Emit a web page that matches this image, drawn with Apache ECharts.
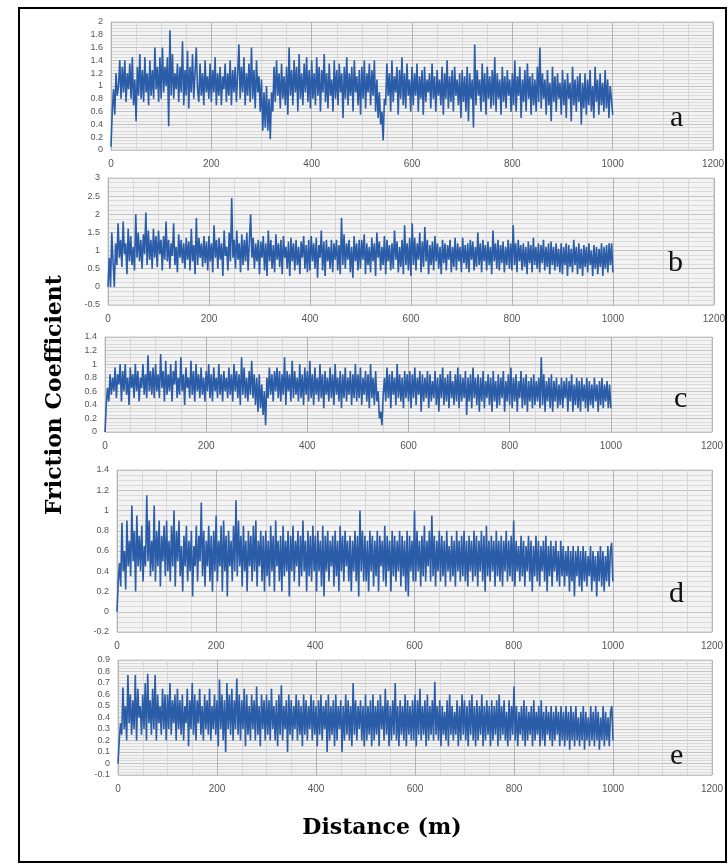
<!DOCTYPE html>
<html>
<head>
    <meta charset="utf-8">
    <title>Friction Coefficient</title>
    <script src="https://cdn.jsdelivr.net/npm/echarts@6/dist/echarts.min.js"></script>
    <style>
        * { margin: 0; padding: 0; }
        html, body { background: #fff; }
        #main { width: 728px; height: 865px; }
    </style>
</head>
<body>
<div id="main"></div>
<script>
    // sampling step along the track (m); value i sits at i * STEP
    var STEP = 2.5;
    var xTicks = [0, 200, 400, 600, 800, 1000, 1200];

    var seriesA = [
        0.05, 0.6, 0.95, 0.55, 1.2, 0.85, 1.0, 1.4, 0.8, 1.3, 0.9, 1.4, 0.75, 1.2, 0.95, 1.35, 0.8, 1.45, 0.7, 1.1,
        0.45, 1.3, 0.85, 1.5, 0.8, 1.25, 0.75, 1.45, 0.9, 1.2, 0.7, 1.4, 0.85, 1.25, 0.8, 1.6, 0.95, 1.3, 0.75, 1.45,
        0.8, 1.6, 0.9, 1.3, 1.0, 1.45, 0.37, 1.87, 0.85, 1.5, 0.8, 1.2, 0.95, 1.35, 0.75, 1.3, 0.9, 1.7, 0.7, 1.25,
        0.85, 1.55, 0.65, 1.3, 0.9, 1.5, 0.8, 1.2, 1.6, 0.95, 0.75, 1.35, 0.85, 1.2, 0.7, 1.4, 0.9, 1.15, 0.8, 1.35,
        0.75, 1.25, 0.9, 1.45, 0.7, 1.2, 0.85, 1.3, 0.7, 1.15, 0.95, 1.35, 0.75, 1.2, 0.85, 1.4, 0.7, 1.25, 0.9, 1.3,
        0.75, 1.2, 1.65, 0.8, 1.3, 0.9, 1.45, 0.7, 1.2, 0.85, 1.35, 0.75, 1.6, 0.8, 1.25, 0.65, 1.4, 0.9, 1.15, 0.6,
        1.1, 0.3, 0.9, 0.35, 1.0, 0.3, 0.8, 0.17, 0.9, 0.6, 1.3, 0.75, 1.4, 0.85, 1.2, 0.65, 1.35, 0.8, 1.15, 0.7,
        1.3, 0.55, 1.6, 0.85, 1.25, 0.7, 1.4, 0.9, 1.3, 0.6, 1.5, 0.8, 1.2, 0.7, 1.35, 0.9, 1.45, 0.75, 1.25, 0.65,
        1.4, 0.8, 1.2, 0.7, 1.45, 0.85, 1.3, 0.6, 1.25, 0.9, 1.5, 0.75, 1.2, 0.65, 1.35, 0.85, 1.1, 0.6, 1.4, 0.8,
        1.25, 0.7, 1.35, 0.9, 1.2, 0.5, 1.3, 0.8, 1.45, 0.7, 1.2, 0.85, 1.3, 0.6, 1.4, 0.9, 1.15, 0.7, 1.25, 0.55,
        1.3, 0.8, 1.4, 0.65, 1.2, 0.9, 1.35, 0.7, 1.25, 0.85, 1.4, 0.6, 1.1, 0.5, 0.9, 0.4, 0.6, 0.15, 0.8, 0.7,
        1.35, 0.85, 1.2, 0.6, 1.4, 0.75, 1.15, 0.9, 1.3, 0.55, 1.25, 0.8, 1.45, 0.7, 1.2, 0.65, 1.35, 0.85, 1.1, 0.6,
        1.3, 0.7, 1.2, 0.85, 1.35, 0.6, 1.15, 0.8, 1.25, 0.55, 1.3, 0.75, 1.1, 0.9, 1.2, 0.65, 1.35, 0.8, 1.15, 0.6,
        1.25, 0.85, 1.1, 0.7, 1.3, 0.55, 1.2, 0.8, 1.4, 0.65, 1.15, 0.75, 1.25, 0.6, 1.3, 0.85, 1.1, 0.7, 1.2, 0.5,
        1.25, 0.75, 1.15, 0.6, 1.3, 0.45, 1.2, 0.8, 1.1, 0.35, 1.65, 0.7, 1.25, 0.85, 1.1, 0.6, 1.35, 0.75, 1.2, 0.55,
        1.3, 0.8, 1.15, 0.65, 1.25, 0.7, 1.45, 0.6, 1.2, 0.8, 1.1, 0.55, 1.3, 0.75, 1.15, 0.65, 1.25, 0.85, 1.1, 0.6,
        1.2, 0.7, 1.4, 0.6, 1.15, 0.85, 1.3, 0.5, 1.1, 0.75, 1.25, 0.6, 1.35, 0.8, 1.15, 0.55, 1.2, 0.7, 1.1, 0.6,
        1.3, 0.75, 1.6, 0.65, 1.2, 0.8, 1.1, 0.55, 1.25, 0.7, 1.05, 0.45, 1.3, 0.75, 1.15, 0.6, 1.2, 0.8, 1.05, 0.55,
        1.25, 0.7, 1.1, 0.5, 1.2, 0.8, 1.05, 0.45, 1.3, 0.7, 1.1, 0.6, 1.15, 0.75, 1.2, 0.4, 1.05, 0.65, 1.2, 0.55,
        1.1, 0.7, 1.25, 0.6, 1.0, 0.5, 1.3, 0.75, 1.1, 0.55, 1.2, 0.7, 1.05, 0.6, 1.25, 0.65, 1.1, 0.5, 1.0, 0.8,
        0.55
    ];
    var seriesB = [
        0, 0.8, 0, 1.5, 0.7, 0, 1.2, 0.6, 1.75, 0.8, 1.3, 0.55, 1.8, 0.9, 1.2, 0.35, 1.6, 0.7, 1.4, 0.6,
        1.1, 0.45, 2.0, 0.8, 1.5, 0.7, 1.3, 0.5, 1.45, 0.9, 2.05, 0.6, 1.55, 0.75, 1.3, 0.5, 1.6, 0.8, 1.4, 0.55,
        1.55, 0.9, 1.3, 0.45, 1.4, 0.75, 1.8, 0.7, 1.3, 0.5, 1.2, 0.85, 1.75, 0.6, 1.1, 0.4, 1.45, 0.8, 1.3, 0.65,
        1.2, 0.5, 1.35, 0.75, 1.25, 0.45, 1.6, 0.7, 1.15, 0.35, 1.9, 0.6, 1.35, 0.8, 1.2, 0.55, 1.4, 0.65, 1.25, 0.45,
        1.4, 0.7, 1.2, 0.4, 1.7, 0.8, 1.3, 0.5, 1.35, 0.75, 1.2, 0.3, 1.55, 0.85, 1.1, 0.45, 1.5, 0.7, 2.45, 0.8,
        1.3, 0.5, 1.55, 0.75, 1.2, 0.4, 1.45, 0.6, 1.3, 0.7, 1.5, 0.45, 1.25, 2.0, 0.8, 1.35, 0.5, 1.2, 0.7, 1.3,
        0.35, 1.25, 0.8, 1.4, 0.45, 1.2, 0.3, 1.55, 0.7, 1.3, 0.5, 1.15, 0.4, 1.45, 0.75, 1.2, 0.55, 1.3, 0.35, 1.4,
        0.8, 1.1, 0.5, 1.25, 0.3, 1.35, 0.7, 1.2, 0.45, 1.3, 0.6, 1.1, 0.35, 1.25, 0.8, 1.4, 0.5, 1.15, 0.4, 1.3,
        0.45, 1.4, 0.7, 1.2, 0.5, 1.35, 0.25, 1.15, 0.8, 1.55, 0.45, 1.25, 0.3, 1.3, 0.7, 1.1, 0.5, 1.3, 0.4, 1.2,
        0.75, 1.3, 0.45, 1.15, 0.35, 1.9, 0.6, 1.45, 0.5, 1.2, 0.75, 1.3, 0.4, 1.1, 0.25, 1.4, 0.7, 1.2, 0.45, 1.3,
        0.5, 1.3, 0.75, 1.45, 0.35, 1.2, 0.6, 1.1, 0.4, 1.35, 0.7, 1.2, 0.3, 1.5, 0.8, 1.25, 0.45, 1.1, 0.6, 1.4,
        0.35, 1.3, 0.7, 1.15, 0.45, 1.2, 0.5, 1.55, 0.75, 1.25, 0.4, 1.1, 0.55, 1.3, 0.35, 1.7, 0.6, 1.2, 0.45, 1.35,
        0.3, 1.75, 0.6, 1.35, 0.45, 1.2, 0.75, 1.5, 0.4, 1.25, 0.55, 1.65, 0.7, 1.3, 0.35, 1.15, 0.6, 1.25, 0.45, 1.4,
        0.7, 1.2, 0.5, 1.1, 0.35, 1.3, 0.65, 1.2, 0.45, 1.15, 0.75, 1.3, 0.4, 1.1, 0.55, 1.35, 0.45, 1.2, 0.7, 1.1,
        0.4, 1.35, 0.65, 1.15, 0.5, 1.2, 0.4, 1.3, 0.75, 1.25, 0.45, 1.1, 0.55, 1.5, 0.6, 1.2, 0.4, 1.3, 0.7, 1.15,
        0.45, 1.25, 0.6, 1.1, 0.35, 1.55, 0.7, 1.2, 0.5, 1.3, 0.45, 1.15, 0.65, 1.25, 0.4, 1.1, 0.6, 1.3, 0.5, 1.2,
        0.45, 1.7, 0.6, 1.2, 0.4, 1.3, 0.7, 1.15, 0.45, 1.2, 0.55, 1.1, 0.35, 1.25, 0.65, 1.15, 0.4, 1.35, 0.6, 1.1,
        0.5, 1.2, 0.4, 1.15, 0.65, 1.3, 0.45, 1.1, 0.55, 1.2, 0.35, 1.25, 0.6, 1.1, 0.45, 1.2, 0.55, 1.05, 0.4, 1.2,
        0.35, 1.1, 0.6, 1.2, 0.3, 1.15, 0.55, 1.05, 0.4, 1.3, 0.6, 1.1, 0.35, 1.2, 0.5, 1.05, 0.3, 1.15, 0.55, 1.1,
        0.4, 1.2, 0.6, 1.0, 0.3, 1.15, 0.5, 1.1, 0.35, 1.05, 0.55, 1.2, 0.3, 1.1, 0.5, 1.15, 0.4, 1.2, 0.6, 1.2,
        0.4
    ];
    var seriesC = [
        0, 0.4, 0.65, 0.45, 0.85, 0.55, 0.8, 0.6, 0.95, 0.5, 0.85, 0.7, 1.0, 0.45, 0.9, 0.6, 1.0, 0.55, 0.8, 0.4,
        0.95, 0.65, 0.85, 0.5, 1.0, 0.6, 0.9, 0.45, 0.8, 0.65, 1.0, 0.55, 0.85, 0.5, 1.13, 0.6, 0.9, 0.55, 0.95, 0.5,
        1.0, 0.6, 0.85, 0.5, 1.15, 0.65, 0.9, 0.45, 1.05, 0.55, 0.85, 0.6, 1.0, 0.45, 0.9, 0.7, 1.05, 0.5, 0.8, 0.55,
        1.1, 0.6, 0.85, 0.4, 0.95, 0.65, 0.8, 0.5, 1.05, 0.55, 0.9, 0.45, 1.0, 0.6, 0.85, 0.5, 0.95, 0.55, 0.8, 0.45,
        0.9, 0.6, 1.0, 0.5, 0.85, 0.45, 0.95, 0.6, 0.8, 0.5, 1.0, 0.55, 0.85, 0.45, 0.9, 0.6, 0.8, 0.5, 0.95, 0.55,
        0.85, 0.45, 1.0, 0.6, 0.9, 0.5, 0.85, 0.4, 1.1, 0.55, 0.95, 0.5, 0.8, 0.45, 0.9, 0.55, 1.05, 0.5, 0.85, 0.4,
        0.8, 0.3, 0.85, 0.35, 0.7, 0.25, 0.6, 0.1, 0.8, 0.5, 0.95, 0.55, 0.85, 0.45, 0.9, 0.6, 0.95, 0.5, 0.9, 0.45,
        0.85, 0.55, 1.1, 0.4, 0.9, 0.6, 0.85, 0.45, 1.05, 0.5, 0.9, 0.55, 0.8, 0.45, 1.0, 0.5, 0.85, 0.4, 0.95, 0.55,
        0.9, 0.45, 1.05, 0.5, 0.85, 0.4, 0.95, 0.55, 0.8, 0.45, 1.0, 0.5, 0.85, 0.35, 0.9, 0.55, 0.8, 0.45, 0.95, 0.5,
        0.85, 0.4, 1.0, 0.55, 0.8, 0.45, 0.9, 0.35, 0.85, 0.5, 0.95, 0.45, 0.8, 0.55, 0.9, 0.4, 0.85, 0.5, 1.0, 0.45,
        0.85, 0.5, 0.95, 0.4, 0.8, 0.55, 0.9, 0.45, 0.85, 0.35, 1.0, 0.5, 0.8, 0.4, 0.9, 0.45, 0.6, 0.2, 0.3, 0.1,
        0.55, 0.8, 0.45, 0.95, 0.5, 0.85, 0.35, 0.9, 0.55, 0.8, 0.4, 1.0, 0.5, 0.85, 0.45, 0.8, 0.35, 0.9, 0.5, 0.85,
        0.45, 0.9, 0.35, 0.85, 0.5, 0.95, 0.4, 0.8, 0.55, 0.9, 0.3, 0.85, 0.45, 0.8, 0.5, 0.9, 0.35, 0.85, 0.45, 0.75,
        0.5, 0.9, 0.4, 0.8, 0.3, 0.85, 0.5, 0.95, 0.4, 0.8, 0.45, 0.85, 0.35, 0.9, 0.5, 0.75, 0.4, 0.85, 0.45, 0.95,
        0.35, 0.85, 0.45, 0.8, 0.5, 0.9, 0.25, 0.8, 0.45, 0.85, 0.35, 0.95, 0.5, 0.8, 0.4, 0.85, 0.3, 0.8, 0.45, 0.9,
        0.35, 0.75, 0.5, 0.85, 0.4, 0.8, 0.3, 0.9, 0.45, 0.75, 0.35, 0.85, 0.4, 0.8, 0.5, 0.9, 0.3, 0.75, 0.45, 0.85,
        0.4, 0.95, 0.35, 0.8, 0.45, 0.85, 0.3, 0.75, 0.5, 0.9, 0.35, 0.8, 0.4, 0.85, 0.3, 0.75, 0.45, 0.8, 0.35, 0.85,
        0.4, 0.75, 0.45, 0.8, 0.35, 1.1, 0.4, 0.85, 0.3, 0.75, 0.45, 0.8, 0.35, 0.85, 0.3, 0.75, 0.45, 0.8, 0.35, 0.7,
        0.4, 0.8, 0.35, 0.75, 0.5, 0.8, 0.3, 0.75, 0.45, 0.85, 0.3, 0.7, 0.4, 0.8, 0.35, 0.75, 0.3, 0.8, 0.45, 0.7,
        0.35, 0.8, 0.3, 0.75, 0.4, 0.7, 0.35, 0.8, 0.45, 0.7, 0.3, 0.75, 0.4, 0.8, 0.35, 0.7, 0.45, 0.75, 0.35, 0.7,
        0.35
    ];
    var seriesD = [
        0, 0.3, 0.48, 0.25, 0.88, 0.4, 0.6, 0.22, 0.9, 0.45, 0.7, 0.35, 1.05, 0.5, 0.8, 0.2, 0.95, 0.45, 0.75, 0.4,
        0.85, 0.3, 0.65, 0.45, 1.15, 0.5, 0.9, 0.35, 0.7, 0.4, 1.05, 0.3, 0.8, 0.45, 0.9, 0.25, 0.75, 0.5, 0.85, 0.35,
        0.9, 0.4, 0.7, 0.3, 0.85, 0.45, 1.0, 0.25, 0.8, 0.5, 0.9, 0.35, 0.65, 0.2, 0.75, 0.45, 0.85, 0.3, 0.7, 0.4,
        0.8, 0.15, 0.65, 0.45, 0.85, 0.3, 0.75, 0.5, 1.08, 0.35, 0.8, 0.25, 0.7, 0.45, 0.85, 0.3, 0.75, 0.2, 0.8, 0.4,
        0.95, 0.3, 0.7, 0.45, 0.85, 0.2, 0.9, 0.4, 0.75, 0.15, 0.8, 0.45, 0.7, 0.3, 0.85, 0.4, 1.1, 0.35, 0.9, 0.45,
        0.75, 0.25, 0.85, 0.4, 0.7, 0.2, 0.8, 0.45, 0.75, 0.3, 0.85, 0.4, 0.9, 0.25, 0.7, 0.45, 0.8, 0.3, 0.75, 0.2,
        0.8, 0.35, 0.7, 0.25, 0.85, 0.4, 0.75, 0.2, 0.9, 0.45, 0.7, 0.3, 0.75, 0.2, 0.85, 0.35, 0.7, 0.4, 0.8, 0.15,
        0.75, 0.4, 0.85, 0.3, 0.7, 0.45, 0.8, 0.25, 0.75, 0.35, 0.9, 0.4, 0.7, 0.2, 0.8, 0.35, 0.75, 0.3, 0.85, 0.4,
        0.75, 0.2, 0.8, 0.4, 0.7, 0.25, 0.85, 0.15, 0.75, 0.4, 0.8, 0.3, 0.7, 0.45, 0.75, 0.25, 0.8, 0.35, 0.7, 0.2,
        0.85, 0.4, 0.75, 0.3, 0.8, 0.45, 0.7, 0.3, 0.75, 0.2, 0.7, 0.4, 0.8, 0.3, 0.75, 0.15, 1.0, 0.4, 0.8, 0.3,
        0.75, 0.3, 0.7, 0.2, 0.8, 0.4, 0.75, 0.25, 0.7, 0.35, 0.8, 0.2, 0.75, 0.45, 0.7, 0.3, 0.85, 0.25, 0.75, 0.4,
        0.7, 0.2, 0.8, 0.35, 0.75, 0.3, 0.7, 0.4, 0.8, 0.25, 0.75, 0.35, 0.7, 0.2, 0.8, 0.15, 0.75, 0.4, 0.7, 0.3,
        1.0, 0.3, 0.8, 0.4, 0.7, 0.25, 0.75, 0.35, 0.85, 0.3, 0.7, 0.45, 0.8, 0.3, 0.95, 0.35, 0.75, 0.25, 0.7, 0.4,
        0.8, 0.3, 0.75, 0.35, 0.7, 0.25, 0.8, 0.4, 0.65, 0.3, 0.75, 0.35, 0.7, 0.25, 0.8, 0.4, 0.7, 0.3, 0.75, 0.35,
        0.8, 0.3, 0.7, 0.25, 0.75, 0.4, 0.7, 0.3, 0.8, 0.35, 0.75, 0.25, 0.7, 0.4, 0.8, 0.3, 0.75, 0.2, 0.85, 0.35,
        0.7, 0.3, 0.75, 0.4, 0.7, 0.25, 0.8, 0.35, 0.7, 0.3, 0.75, 0.25, 0.7, 0.4, 0.8, 0.3, 0.7, 0.35, 0.75, 0.3,
        0.9, 0.25, 0.7, 0.4, 0.65, 0.3, 0.75, 0.35, 0.7, 0.25, 0.65, 0.4, 0.75, 0.3, 0.7, 0.2, 0.65, 0.35, 0.75, 0.3,
        0.7, 0.25, 0.65, 0.4, 0.7, 0.3, 0.75, 0.2, 0.65, 0.35, 0.7, 0.25, 0.65, 0.4, 0.7, 0.3, 0.6, 0.25, 0.7, 0.35,
        0.65, 0.25, 0.6, 0.35, 0.65, 0.2, 0.6, 0.3, 0.65, 0.15, 0.6, 0.35, 0.65, 0.25, 0.6, 0.2, 0.65, 0.3, 0.6, 0.25,
        0.55, 0.35, 0.65, 0.2, 0.6, 0.3, 0.55, 0.15, 0.6, 0.3, 0.65, 0.25, 0.6, 0.2, 0.55, 0.3, 0.65, 0.25, 0.6, 0.68,
        0.3
    ];
    var seriesE = [
        0, 0.2, 0.35, 0.25, 0.66, 0.3, 0.5, 0.2, 0.77, 0.35, 0.6, 0.25, 0.55, 0.3, 0.77, 0.2, 0.65, 0.4, 0.5, 0.25,
        0.6, 0.3, 0.7, 0.2, 0.78, 0.35, 0.55, 0.25, 0.65, 0.3, 0.77, 0.2, 0.6, 0.35, 0.5, 0.25, 0.65, 0.3, 0.6, 0.2,
        0.6, 0.3, 0.7, 0.25, 0.55, 0.35, 0.6, 0.2, 0.65, 0.3, 0.55, 0.25, 0.6, 0.2, 0.5, 0.35, 0.65, 0.15, 0.55, 0.3,
        0.7, 0.25, 0.6, 0.2, 0.55, 0.35, 0.65, 0.25, 0.5, 0.2, 0.6, 0.3, 0.55, 0.25, 0.65, 0.2, 0.5, 0.3, 0.6, 0.25,
        0.55, 0.15, 0.73, 0.3, 0.6, 0.2, 0.55, 0.1, 0.7, 0.3, 0.6, 0.25, 0.65, 0.2, 0.55, 0.3, 0.74, 0.25, 0.6, 0.2,
        0.55, 0.3, 0.65, 0.15, 0.6, 0.25, 0.5, 0.2, 0.6, 0.3, 0.55, 0.2, 0.67, 0.25, 0.5, 0.15, 0.6, 0.3, 0.55, 0.2,
        0.6, 0.25, 0.55, 0.2, 0.65, 0.3, 0.5, 0.2, 0.55, 0.15, 0.6, 0.25, 0.68, 0.2, 0.5, 0.3, 0.55, 0.1, 0.6, 0.25,
        0.55, 0.2, 0.5, 0.3, 0.6, 0.2, 0.55, 0.25, 0.5, 0.15, 0.6, 0.25, 0.55, 0.2, 0.5, 0.3, 0.6, 0.2, 0.55, 0.25,
        0.5, 0.15, 0.55, 0.25, 0.6, 0.2, 0.5, 0.3, 0.55, 0.1, 0.6, 0.2, 0.5, 0.25, 0.55, 0.15, 0.6, 0.2, 0.5, 0.3,
        0.55, 0.1, 0.5, 0.2, 0.6, 0.25, 0.55, 0.2, 0.5, 0.15, 0.7, 0.25, 0.55, 0.2, 0.5, 0.3, 0.55, 0.2, 0.5, 0.15,
        0.6, 0.2, 0.5, 0.25, 0.55, 0.15, 0.6, 0.2, 0.5, 0.25, 0.55, 0.15, 0.6, 0.3, 0.5, 0.2, 0.65, 0.25, 0.55, 0.15,
        0.5, 0.2, 0.55, 0.25, 0.7, 0.2, 0.5, 0.15, 0.55, 0.25, 0.5, 0.2, 0.6, 0.15, 0.55, 0.25, 0.5, 0.2, 0.55, 0.2,
        0.6, 0.15, 0.55, 0.25, 0.65, 0.2, 0.5, 0.25, 0.55, 0.15, 0.6, 0.2, 0.5, 0.25, 0.55, 0.2, 0.71, 0.25, 0.5, 0.2,
        0.55, 0.15, 0.5, 0.25, 0.45, 0.2, 0.55, 0.15, 0.6, 0.25, 0.5, 0.2, 0.45, 0.25, 0.55, 0.15, 0.5, 0.2, 0.6, 0.25,
        0.55, 0.2, 0.5, 0.15, 0.55, 0.25, 0.6, 0.2, 0.5, 0.15, 0.55, 0.2, 0.5, 0.25, 0.6, 0.15, 0.5, 0.2, 0.55, 0.25,
        0.5, 0.15, 0.55, 0.2, 0.5, 0.25, 0.55, 0.15, 0.6, 0.2, 0.5, 0.25, 0.55, 0.2, 0.45, 0.15, 0.55, 0.2, 0.5, 0.25,
        0.67, 0.2, 0.5, 0.15, 0.45, 0.25, 0.5, 0.2, 0.55, 0.15, 0.5, 0.2, 0.45, 0.25, 0.5, 0.15, 0.55, 0.2, 0.45, 0.25,
        0.5, 0.15, 0.55, 0.2, 0.45, 0.15, 0.5, 0.25, 0.45, 0.2, 0.5, 0.15, 0.45, 0.2, 0.5, 0.25, 0.45, 0.15, 0.5, 0.2,
        0.45, 0.15, 0.5, 0.2, 0.45, 0.12, 0.5, 0.2, 0.45, 0.15, 0.5, 0.2, 0.4, 0.15, 0.45, 0.2, 0.5, 0.12, 0.45, 0.2,
        0.4, 0.15, 0.5, 0.2, 0.45, 0.15, 0.5, 0.2, 0.45, 0.12, 0.4, 0.2, 0.5, 0.15, 0.45, 0.2, 0.4, 0.15, 0.45, 0.5,
        0.2
    ];

    var panelNames = ['a', 'b', 'c', 'd', 'e'];
    var panelData = [seriesA, seriesB, seriesC, seriesD, seriesE];
    var yMin = [0, -0.5, 0, -0.2, -0.1];
    var yMax = [2, 3, 1.4, 1.4, 0.9];
    var yStep = [0.2, 0.5, 0.2, 0.2, 0.1];

    // layout of each sub plot (px)
    var boxes = [
        {left: 111, top: 22, height: 128, right: 15, onZero: false, label: [680, 127]},
        {left: 108, top: 178, height: 127, right: 13, onZero: false, label: [678, 272]},
        {left: 105, top: 337, height: 95, right: 16, onZero: false, label: [684, 408]},
        {left: 117, top: 470, height: 162, right: 16, onZero: true, label: [679, 603]},
        {left: 118, top: 660, height: 115, right: 16, onZero: false, label: [680, 765]}
    ];

    var chart = echarts.init(document.getElementById('main'));

    var grids = [], xAxes = [], yAxes = [], series = [], graphics = [];
    var labelFont = 'Liberation Sans';
    var plain = function (v) { return String(Math.round(v * 100) / 100); };

    for (var i = 0; i < 5; i++) {
        var b = boxes[i];
        grids.push({
            left: b.left, right: b.right, top: b.top, height: b.height,
            show: true, backgroundColor: '#f3f3f3', borderColor: '#c8c8c8', borderWidth: 1
        });
        xAxes.push({
            type: 'value', gridIndex: i, min: xTicks[0], max: xTicks[xTicks.length - 1], interval: 200,
            axisLine: {show: false, onZero: b.onZero},
            axisTick: {show: false},
            axisLabel: {color: '#555', fontSize: 10, fontFamily: labelFont, margin: 9, formatter: plain},
            splitLine: {show: true, lineStyle: {color: '#b4b4b4', width: 1}},
            minorTick: {show: false, splitNumber: 4},
            minorSplitLine: {show: true, lineStyle: {color: '#d6d6d6', width: 1}}
        });
        yAxes.push({
            type: 'value', gridIndex: i, min: yMin[i], max: yMax[i], interval: yStep[i],
            axisLine: {show: false},
            axisTick: {show: false},
            axisLabel: {color: '#555', fontSize: 9, fontFamily: labelFont, margin: 8, formatter: plain},
            splitLine: {show: true, lineStyle: {color: '#c4c4c4', width: 1}},
            minorTick: {show: false, splitNumber: 4},
            minorSplitLine: {show: true, lineStyle: {color: '#dadada', width: 1}}
        });
        series.push({
            name: panelNames[i], type: 'line', xAxisIndex: i, yAxisIndex: i,
            data: panelData[i].map(function (v, k) { return [k * STEP, v]; }),
            showSymbol: false, symbol: 'none', sampling: null,
            lineStyle: {color: '#2a5ca8', width: 1.6, join: 'bevel'},
            z: 5
        });
        graphics.push({
            type: 'text', left: b.label[0] - 10, top: b.label[1] - 24, z: 10,
            style: {text: panelNames[i], font: '30px "Liberation Serif"', fill: '#111'}
        });
    }

    // outer frame + axis titles
    graphics.push({
        type: 'rect', shape: {x: 19, y: 8, width: 707, height: 854}, z: 20,
        style: {fill: 'none', stroke: '#000', lineWidth: 2}
    });
    graphics.push({
        type: 'text', x: 55, y: 395, rotation: Math.PI / 2, z: 10,
        style: {text: 'Friction Coefficient', font: 'bold 22px "DejaVu Serif"', fill: '#000',
            textAlign: 'center', textVerticalAlign: 'middle'}
    });
    graphics.push({
        type: 'text', x: 382, y: 828, z: 10,
        style: {text: 'Distance (m)', font: 'bold 22px "DejaVu Serif"', fill: '#000',
            textAlign: 'center', textVerticalAlign: 'middle'}
    });

    var option = {
        animation: false,
        backgroundColor: '#fff',
        grid: grids,
        xAxis: xAxes,
        yAxis: yAxes,
        series: series,
        graphic: graphics
    };
    chart.setOption(option);
</script>
</body>
</html>
